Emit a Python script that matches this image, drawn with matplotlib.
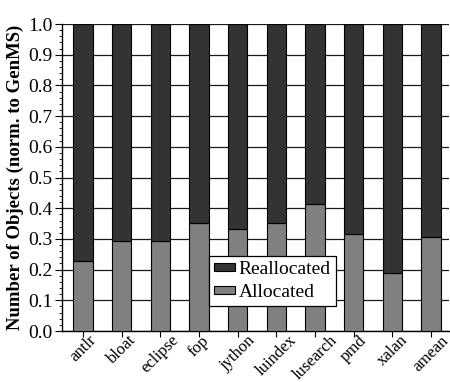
import numpy as np
import matplotlib.pyplot as plt
from matplotlib.ticker import MultipleLocator

plt.rcParams['font.family'] = ['Liberation Serif', 'DejaVu Serif']

# Benchmarks and the allocated share of objects (normalised to GenMS)
benchmarks = ["antlr", "bloat", "eclipse", "fop", "jython",
              "luindex", "lusearch", "pmd", "xalan", "amean"]
allocated = [0.228, 0.292, 0.292, 0.352, 0.333,
             0.351, 0.414, 0.316, 0.189, 0.307]
total = [1.0] * len(benchmarks)
reallocated = [t - a for t, a in zip(total, allocated)]

DARK = "#333333"
LIGHT = "#808080"

fig = plt.figure(figsize=(4.5, 3.82), dpi=100)
ax = fig.add_axes([0.138, 0.1335, 0.86, 0.8035])

x = np.arange(len(benchmarks))
w = 0.5
ax.bar(x, allocated, w, color=LIGHT, edgecolor="black", linewidth=0.8,
       label="Allocated", zorder=3)
ax.bar(x, reallocated, w, bottom=allocated, color=DARK, edgecolor="black",
       linewidth=0.8, label="Reallocated", zorder=3)

ax.set_xlim(-0.54, len(benchmarks) - 0.53)
ax.set_ylim(0, 1.0)
ax.yaxis.set_major_locator(MultipleLocator(0.1))
ax.yaxis.set_minor_locator(MultipleLocator(0.02))
ax.set_yticklabels([f"{v:.1f}" for v in ax.get_yticks()])
ax.grid(axis="y", which="major", color="#1a1a1a", linewidth=0.9, zorder=0)
ax.set_axisbelow(True)

ax.set_xticks(x)
ax.set_xticklabels(benchmarks, rotation=45, ha="center", va="top",
                   fontsize=12)
ax.tick_params(axis="x", length=4, width=0.8, direction="out", pad=-3)
ax.tick_params(axis="y", which="major", length=5, width=0.8, labelsize=14,
               pad=2)
ax.tick_params(axis="y", which="minor", length=2.5, width=0.6)

for s in ("top", "right"):
    ax.spines[s].set_visible(False)
ax.spines["left"].set_linewidth(1.0)
ax.spines["bottom"].set_linewidth(1.0)

ax.set_ylabel("Number of Objects (norm. to GenMS)", fontsize=13.5,
              fontweight="bold", labelpad=3)

handles, labels = ax.get_legend_handles_labels()
leg = ax.legend(handles[::-1], labels[::-1], loc="center",
                bbox_to_anchor=(0.543, 0.163), fontsize=14, frameon=True,
                fancybox=False, framealpha=1, edgecolor="black",
                handlelength=1.1, handleheight=0.3, handletextpad=0.2,
                borderpad=0.25, labelspacing=0.3, borderaxespad=0)
leg.get_frame().set_linewidth(0.9)

fig.savefig("out.png", dpi=100)
